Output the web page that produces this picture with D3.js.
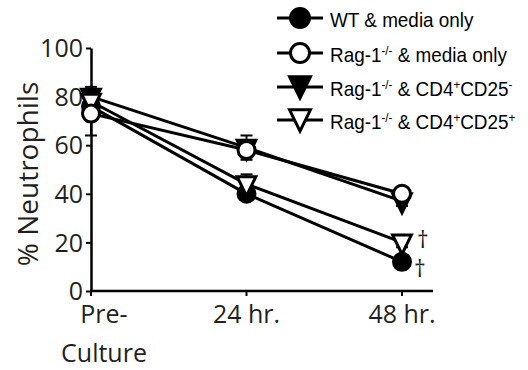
<!DOCTYPE html>
<html>
<head>
<meta charset="utf-8">
<script src="https://cdn.jsdelivr.net/npm/d3@7"></script>
<style>
  body { margin: 0; background: #fff; }
  svg { display: block; }
  .tick-label { font-family: "Open Sans", sans-serif; font-size: 25px; fill: #231f20; }
  .legend text { font-family: "Liberation Sans", Arial, sans-serif; font-size: 21px; fill: #000; }
</style>
</head>
<body>
<svg width="528" height="370"></svg>
<script>
// data
let timepoints = ["Pre", "24 hr.", "48 hr."];
let seriesNames = ["WT", "RagMedia", "RagCD25neg", "RagCD25pos"];
let wtMedia = [76, 40, 12];
let ragMedia = [73, 58, 40];
let ragCD25neg = [80, 59, 37];
let ragCD25pos = [78, 44, 20];
let wtErr = [2, 2, 2];
let ragMediaErr = [9, 3, 1];
let ragCD25negErr = [4, 5, 2];
let ragCD25posErr = [3, 4, 2];
let yTicks = [0, 20, 40, 60, 80, 100];

let svg = d3.select("svg");
let plotLeft = 91, plotRight = 402, plotTop = 48, plotBottom = 291;

let xScale = d3.scalePoint().domain(timepoints).range([plotLeft, plotRight]);
let yScale = d3.scaleLinear().domain([0, 100]).range([plotBottom, plotTop]);

let series = [
  {name: seriesNames[0], values: wtMedia, err: wtErr, shape: "circle", fill: "#000"},
  {name: seriesNames[1], values: ragMedia, err: ragMediaErr, shape: "circle", fill: "#fff"},
  {name: seriesNames[2], values: ragCD25neg, err: ragCD25negErr, shape: "tri", fill: "#000"},
  {name: seriesNames[3], values: ragCD25pos, err: ragCD25posErr, shape: "tri", fill: "#fff"}
];

// y axis
let yAxis = d3.axisLeft(yScale).tickValues(yTicks).tickSize(5).tickPadding(3).tickSizeOuter(0);
let gy = svg.append("g").attr("transform", "translate(" + plotLeft + ",0)").call(yAxis);
gy.select(".domain").attr("stroke", "#000").attr("stroke-width", 2.5);
gy.selectAll(".tick line").attr("stroke", "#000").attr("stroke-width", 2);
gy.selectAll(".tick text").attr("class", "tick-label").attr("dy", "0.35em");

// x axis
let gx = svg.append("g").attr("transform", "translate(0," + plotBottom + ")");
gx.append("line")
  .attr("x1", plotLeft - 1).attr("x2", 433)
  .attr("stroke", "#000").attr("stroke-width", 2.5);
gx.selectAll("line.xt")
  .data(timepoints)
  .enter().append("line")
  .attr("class", "xt")
  .attr("x1", function(d) { return xScale(d); })
  .attr("x2", function(d) { return xScale(d); })
  .attr("y1", 0).attr("y2", 5)
  .attr("stroke", "#000").attr("stroke-width", 2);

let xLabels = svg.selectAll("text.xl")
  .data(timepoints)
  .enter().append("text")
  .attr("class", "tick-label xl")
  .attr("text-anchor", "middle")
  .attr("x", function(d, i) { return i == 0 ? xScale(d) + 13 : xScale(d); })
  .attr("y", 323);
xLabels.each(function(d, i) {
  let t = d3.select(this);
  if (i == 0) {
    t.append("tspan").attr("x", xScale(d) + 13).text("Pre-");
    t.append("tspan").attr("x", xScale(d) + 13).attr("dy", 39).text("Culture");
  } else {
    t.text(d);
  }
});

// y label
svg.append("text")
  .attr("transform", "translate(38,174) rotate(-90)")
  .attr("text-anchor", "middle")
  .style("font-family", "'Open Sans', sans-serif")
  .style("font-size", "28px")
  .style("fill", "#231f20")
  .text("% Neutrophils");

// marker helper
function drawMarker(g, shape, fill, size) {
  if (shape == "circle") {
    g.append("circle").attr("r", size)
      .attr("fill", fill).attr("stroke", "#000").attr("stroke-width", 3);
  } else {
    let w = size * 1.1, h = size * 1.15;
    g.append("path")
      .attr("d", "M" + (-w) + "," + (-h * 0.75) + "L" + w + "," + (-h * 0.75) + "L0," + (h * 1.2) + "Z")
      .attr("fill", fill).attr("stroke", "#000").attr("stroke-width", 3)
      .attr("stroke-linejoin", "miter");
  }
}

let line = d3.line()
  .x(function(d, i) { return xScale(timepoints[i]); })
  .y(function(d) { return yScale(d); });

// error bars
series.forEach(function(s) {
  s.values.forEach(function(v, i) {
    let x = xScale(timepoints[i]);
    let g = svg.append("g").attr("class", "err");
    g.append("line").attr("x1", x).attr("x2", x)
      .attr("y1", yScale(v - s.err[i])).attr("y2", yScale(v + s.err[i]))
      .attr("stroke", "#000").attr("stroke-width", 2);
    [v - s.err[i], v + s.err[i]].forEach(function(e) {
      g.append("line").attr("x1", x - 6).attr("x2", x + 6)
        .attr("y1", yScale(e)).attr("y2", yScale(e))
        .attr("stroke", "#000").attr("stroke-width", 2);
    });
  });
});

// lines
series.forEach(function(s) {
  svg.append("path")
    .attr("d", line(s.values))
    .attr("fill", "none")
    .attr("stroke", "#000")
    .attr("stroke-width", 3);
});

// markers, open ones drawn last so they sit on top like the figure
[0, 2, 3, 1].forEach(function(k) {
  let s = series[k];
  s.values.forEach(function(v, i) {
    let g = svg.append("g")
      .attr("transform", "translate(" + xScale(timepoints[i]) + "," + yScale(v) + ")");
    drawMarker(g, s.shape, s.fill, 8.5);
  });
});

// significance daggers
let daggers = [{v: ragCD25pos[2], dx: 15, dy: 6}, {v: wtMedia[2], dx: 12, dy: 15}];
daggers.forEach(function(d) {
  svg.append("text")
    .attr("x", xScale(timepoints[2]) + d.dx)
    .attr("y", yScale(d.v) + d.dy)
    .style("font-family", "'Open Sans', sans-serif")
    .style("font-size", "23px")
    .style("fill", "#231f20")
    .text("\u2020");
});

// legend
let legendLabels = [
  [["WT & media only", null]],
  [["Rag-1", null], ["-/-", "sup"], [" & media only", null]],
  [["Rag-1", null], ["-/-", "sup"], [" & CD4", null], ["+", "sup"], ["CD25", null], ["-", "sup"]],
  [["Rag-1", null], ["-/-", "sup"], [" & CD4", null], ["+", "sup"], ["CD25", null], ["+", "sup"]]
];
let legendY = [18, 53, 87, 120];

let legend = svg.append("g").attr("class", "legend");
series.forEach(function(s, i) {
  let g = legend.append("g").attr("transform", "translate(0," + legendY[i] + ")");
  g.append("line").attr("x1", 277).attr("x2", 323)
    .attr("stroke", "#000").attr("stroke-width", 3);
  let m = g.append("g").attr("transform", "translate(300," + (s.shape == "tri" ? -2 : 0) + ")");
  drawMarker(m, s.shape, s.fill, 9.5);
  let t = g.append("text").attr("transform", "translate(330,9) scale(0.9,1)");
  legendLabels[i].forEach(function(p) {
    let ts = t.append("tspan").text(p[0]);
    if (p[1] == "sup") {
      ts.attr("font-size", "13px").attr("baseline-shift", "60%");
    }
  });
});
</script>
</body>
</html>
